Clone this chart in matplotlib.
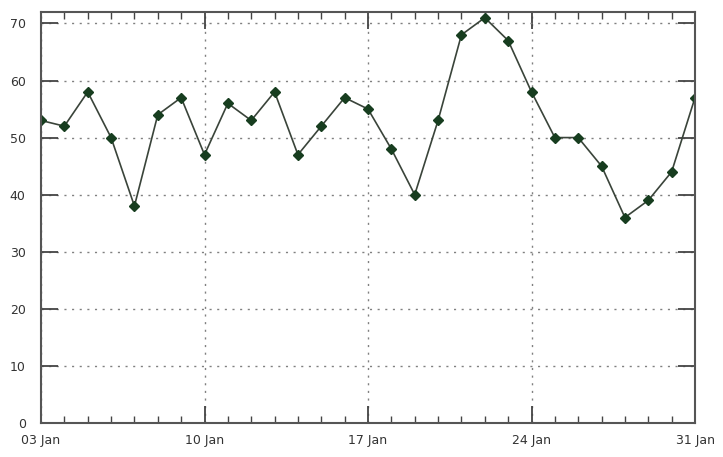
import matplotlib
matplotlib.use("Agg")
from matplotlib import pyplot as plt
import matplotlib.dates as mdates
import numpy as np
import datetime as dt

# daily values, 03 Jan .. 31 Jan
start = dt.date(2011, 1, 3)
values = [53, 52, 58, 50, 38, 54, 57, 47, 56, 53, 58, 47, 52, 57, 55,
          48, 40, 53, 68, 71, 67, 58, 50, 50, 45, 36, 39, 44, 57]
days = [start + dt.timedelta(days=i) for i in range(len(values))]

fig = plt.figure(figsize=(7.23, 4.57), dpi=100)
ax = fig.add_axes([41 / 723, 34 / 457, 654 / 723, 411 / 457])

ax.plot(days, values, color="#3a443a", linewidth=1.2, marker="D",
        markersize=5.5, markerfacecolor="#173d1f", markeredgecolor="#173d1f")

ax.set_xlim(days[0], days[-1])
ax.set_ylim(0, 72)
ax.set_yticks(np.arange(0, 71, 10))

ax.xaxis.set_major_locator(mdates.DayLocator(bymonthday=[3, 10, 17, 24, 31]))
ax.xaxis.set_minor_locator(mdates.DayLocator())
ax.xaxis.set_major_formatter(mdates.DateFormatter("%d Jan"))

ax.grid(True, which="major", color="#808080", linestyle=(0, (1.5, 4)), linewidth=1.0)

for s in ax.spines.values():
    s.set_color("#555555")
    s.set_linewidth(1.5)

ax.tick_params(which="major", direction="in", length=12, width=1.3, color="#444444",
               top=True, right=True, labelsize=9, labelcolor="#333333")
ax.tick_params(which="minor", direction="in", length=5, width=1.0, color="#444444",
               top=True, right=False)
ax.tick_params(axis="x", which="major", pad=8)
ax.tick_params(axis="y", which="major", pad=11)

fig.savefig("out.png", dpi=100)
